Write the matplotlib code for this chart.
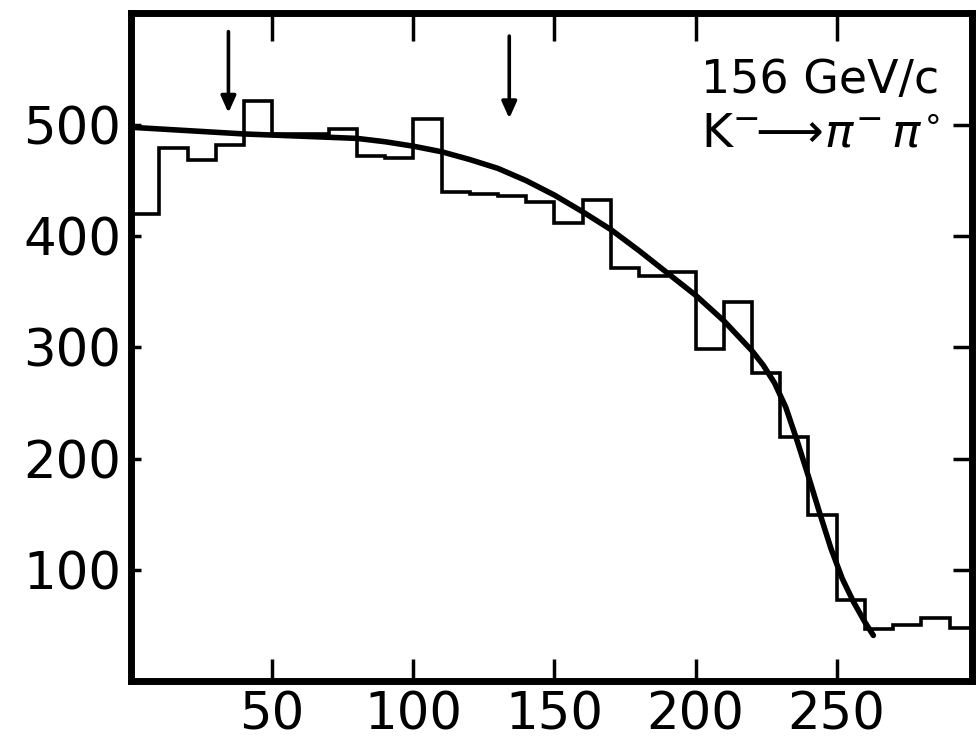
import numpy as np
import matplotlib
matplotlib.use("Agg")
import matplotlib.pyplot as plt

# histogram: 10-unit bins from 0 to 300
bin_edges = list(range(0, 310, 10))
counts = [420, 479, 469, 482, 522, 492, 492, 496, 472, 470,
          505, 440, 438, 436, 431, 412, 433, 371, 364, 368,
          299, 341, 277, 219, 149, 73, 47, 50, 57, 48]

# fitted curve
fit_x = [0, 20, 40, 60, 80, 90, 100, 110, 120, 130, 140, 150, 160, 170,
         180, 190, 200, 210, 220, 224, 228, 232, 236, 240, 244, 248, 252,
         256, 260, 263]
fit_y = [498, 495, 492, 490, 488, 485, 481, 476, 469, 461, 450, 437, 422, 406,
         387, 367, 347, 324, 297, 284, 268, 246, 216, 184, 151, 119, 92,
         71, 53, 41]

# cut markers (x position, arrow top, arrow tip)
arrow_x = [34.5, 134]
arrow_top = [584, 580]
arrow_tip = [511, 506]

x_ticks = [50, 100, 150, 200, 250]
y_ticks = [100, 200, 300, 400, 500]

plt.rcParams["font.family"] = ["DejaVu Sans"]
plt.rcParams["mathtext.fontset"] = "dejavusans"

fig = plt.figure(figsize=(9.78, 7.5), dpi=100)
ax = fig.add_axes([0.134, 0.092, 0.860, 0.891])

ax.stairs(counts, bin_edges, baseline=None, color="black", linewidth=2.6)
ax.plot(fit_x, fit_y, color="black", linewidth=4.0, solid_capstyle="round",
        solid_joinstyle="round")

for xa, yt, yb in zip(arrow_x, arrow_top, arrow_tip):
    ax.annotate("", xy=(xa, yb), xytext=(xa, yt),
                arrowprops=dict(arrowstyle="-|>,head_length=1.0,head_width=0.45",
                                color="black", lw=2.6, shrinkA=0, shrinkB=0))

ax.text(202, 529, "156 GeV/c", fontsize=33, ha="left", va="baseline")
ax.text(202, 481, r"K$^{-}\!\!\longrightarrow\!\pi^{-}\,\pi^{\circ}$",
        fontsize=34, ha="left", va="baseline")

ax.set_xlim(0, 298)
ax.set_ylim(0, 601)
ax.set_xticks(x_ticks)
ax.set_yticks(y_ticks)
ax.tick_params(axis="x", direction="in", length=16, width=2.5, labelsize=37, pad=7)
ax.tick_params(axis="y", direction="in", length=7, width=2.5, labelsize=37, pad=7)

for s in ax.spines.values():
    s.set_linewidth(5)

# ticks on top and right without labels
top = ax.secondary_xaxis("top")
top.set_xticks(x_ticks)
top.tick_params(direction="in", length=20, width=2.5, labeltop=False)
top.spines["top"].set_visible(False)
right = ax.secondary_yaxis("right")
right.set_yticks(y_ticks)
right.tick_params(direction="in", length=14, width=2.5, labelright=False)
right.spines["right"].set_visible(False)

fig.savefig("out.png", dpi=100)
